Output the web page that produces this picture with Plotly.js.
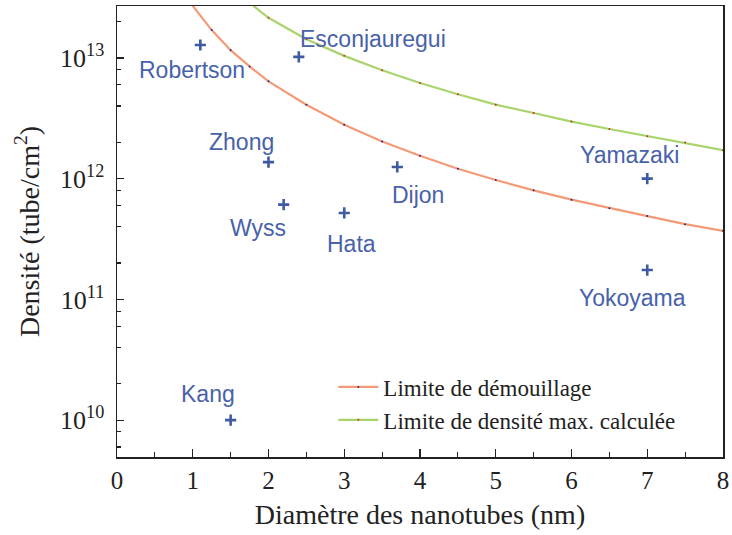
<!DOCTYPE html>
<html>
<head>
<meta charset="utf-8">
<script src="https://cdn.plot.ly/plotly-3.0.1.min.js"></script>
<style>html,body{margin:0;padding:0;background:#fff;}#chart{width:732px;height:535px;}</style>
</head>
<body>
<div id="chart"></div>
<script>
// Experimental points
const names = ["Robertson","Esconjauregui","Zhong","Wyss","Hata","Dijon","Yamazaki","Yokoyama","Kang"];
const diam  = [1.1, 2.4, 2.0, 2.2, 3.0, 3.7, 7.0, 7.0, 1.5];
const dens  = [1.28e13, 1.02e13, 1.37e12, 6.1e11, 5.2e11, 1.25e12, 1.0e12, 1.75e11, 1.0e10];

// Limite de démouillage
const demX = [1.0, 1.25, 1.5, 1.75, 2.0, 2.5, 3.0, 3.5, 4.0, 4.5, 5.0, 5.5, 6.0, 6.5, 7.0, 7.5, 8.0];
const demY = [2.7e13, 1.7e13, 1.16e13, 8.5e12, 6.4e12, 4.1e12, 2.8e12, 2.03e12, 1.55e12, 1.21e12, 9.75e11, 8.0e11, 6.7e11, 5.7e11, 4.9e11, 4.2e11, 3.7e11];

// Limite de densité max. calculée
const maxX = [1.8, 2.0, 2.5, 3.0, 3.5, 4.0, 4.5, 5.0, 5.5, 6.0, 6.5, 7.0, 7.5, 8.0];
const maxY = [2.7e13, 2.15e13, 1.43e13, 1.04e13, 7.9e12, 6.2e12, 5.0e12, 4.1e12, 3.5e12, 2.97e12, 2.58e12, 2.25e12, 1.99e12, 1.72e12];

// Tick labels
const xTicks = [0,1,2,3,4,5,6,7,8];
const yTickVals = [1e10, 1e11, 1e12, 1e13];
const yTickText = ["10<sup>10</sup>","10<sup>11</sup>","10<sup>12</sup>","10<sup>13</sup>"];

// label offsets (px) relative to each point
const labelShift = {
  "Robertson":[-8,-25], "Esconjauregui":[74,18], "Zhong":[-27,20], "Wyss":[-26,-23],
  "Hata":[7,-31], "Dijon":[21,-28], "Yamazaki":[-18,24], "Yokoyama":[-15,-28], "Kang":[-23,26]
};

const minorVals = [];
[1e9,1e10,1e11,1e12,1e13].forEach(d => [2,4,6,8].forEach(m => minorVals.push(m*d)));

const traces = [
  {x: demX, y: demY, mode: 'lines+markers', name: 'Limite de démouillage',
   line: {color: '#f59a76', width: 2.2}, marker: {size: 2, color: '#2b2b8c'}},
  {x: maxX, y: maxY, mode: 'lines+markers', name: 'Limite de densité max. calculée',
   line: {color: '#a9d46c', width: 2.2}, marker: {size: 2, color: '#c0392b'}},
  {x: diam, y: dens, mode: 'markers', showlegend: false, cliponaxis: false,
   marker: {symbol: 'cross-thin', size: 8, line: {width: 2.6, color: '#3f5aa3'}, color: '#3f5aa3'}}
];

const annotations = names.map((n, i) => ({
  x: diam[i], y: Math.log10(dens[i]), text: n, showarrow: false,
  xshift: labelShift[n][0], yshift: labelShift[n][1],
  font: {family: 'Liberation Sans, Arial, sans-serif', size: 23, color: '#4862aa'}
}));

const layout = {
  width: 732, height: 535,
  margin: {l: 117, r: 9, t: 6, b: 78},
  paper_bgcolor: '#fff', plot_bgcolor: '#fff',
  font: {family: 'Liberation Serif, Times New Roman, serif', color: '#222'},
  showlegend: true,
  legend: {x: 0.357, y: 0.203, xanchor: 'left', yanchor: 'top', bgcolor: 'rgba(0,0,0,0)',
           font: {family: 'Liberation Serif, Times New Roman, serif', size: 23, color: '#222'},
           itemwidth: 40, tracegroupgap: 0},
  xaxis: {range: [0, 8], tickvals: xTicks, ticktext: xTicks.map(String),
          ticks: 'inside', ticklen: 8, tickwidth: 1.3, tickcolor: '#222',
          showline: true, linecolor: '#222', linewidth: 1.5, mirror: true,
          showgrid: false, zeroline: false, ticklabelstandoff: 0,
          tickfont: {size: 25, family: 'Liberation Serif, Times New Roman, serif', color: '#222'},
          minor: {dtick: 0.5, ticks: 'inside', ticklen: 5, tickwidth: 1.2, tickcolor: '#222', showgrid: false},
          title: {text: 'Diamètre des nanotubes (nm)', standoff: 12,
                  font: {size: 28, family: 'Liberation Serif, Times New Roman, serif', color: '#222'}}},
  yaxis: {type: 'log', range: [9.695, 13.43], tickvals: yTickVals, ticktext: yTickText,
          ticks: 'inside', ticklen: 7, tickwidth: 1.3, tickcolor: '#222',
          showline: true, linecolor: '#222', linewidth: 1.5, mirror: true,
          showgrid: false, zeroline: false, ticklabelstandoff: 6,
          tickfont: {size: 26, family: 'Liberation Serif, Times New Roman, serif', color: '#222'},
          minor: {tickmode: 'array', tickvals: minorVals, ticks: 'inside', ticklen: 4, tickwidth: 1.2, tickcolor: '#222', showgrid: false},
          title: {text: 'Densité (tube/cm<sup>2</sup>)', standoff: 12,
                  font: {size: 28, family: 'Liberation Serif, Times New Roman, serif', color: '#222'}}},
  annotations: annotations
};

Plotly.newPlot('chart', traces, layout, {displayModeBar: false, staticPlot: true});
</script>
</body>
</html>
